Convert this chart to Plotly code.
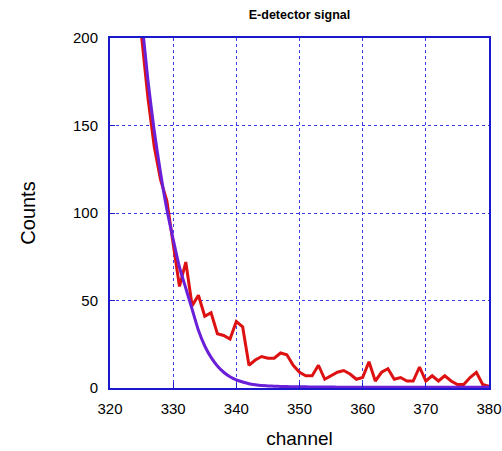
import plotly.graph_objects as go

channels = list(range(325, 381))
counts = [201, 166, 138, 119, 107, 83, 58, 72, 47, 53, 41, 43, 31, 30, 28, 38, 35, 13, 16, 18,
          17, 17, 20, 19, 13, 9, 7, 7, 13, 5, 7, 9, 10, 8, 5, 6, 15, 4, 9, 11,
          5, 6, 4, 4, 12, 4, 7, 4, 7, 4, 2, 2, 6, 9, 2, 1]

fit_channels = list(range(325, 381))
fit_counts = [211, 176, 147, 123, 102, 85, 69, 57, 45, 33, 24, 17.5, 12.6, 9, 6.4, 4.6, 3.4, 2.4, 1.8, 1.4,
              1.2, 1.0, 0.9, 0.8, 0.75, 0.7, 0.65, 0.6, 0.6, 0.55, 0.55, 0.5, 0.5, 0.5, 0.5, 0.5, 0.5, 0.5, 0.5, 0.5,
              0.5, 0.5, 0.5, 0.5, 0.5, 0.5, 0.5, 0.5, 0.5, 0.5, 0.5, 0.5, 0.5, 0.5, 0.5, 0.5]

x_ticks = [320, 330, 340, 350, 360, 370, 380]
y_ticks = [0, 50, 100, 150, 200]

RED = "#dd1111"
PURPLE = "#6a1fd8"
BLUE = "#1a1acc"
GRID = "#3a3aee"
FONT = "Liberation Sans, Arial, sans-serif"

fig = go.Figure()
fig.add_trace(go.Scatter(x=channels, y=counts, mode="lines",
                         line=dict(color=RED, width=3), showlegend=False))
fig.add_trace(go.Scatter(x=fit_channels, y=fit_counts, mode="lines",
                         line=dict(color=PURPLE, width=3, shape="spline", smoothing=0.6),
                         showlegend=False))

fig.update_layout(
    width=502, height=451,
    margin=dict(l=110, r=13, t=38, b=63),
    paper_bgcolor="white", plot_bgcolor="white",
    font=dict(family=FONT, color="black", size=15),
    title=dict(text="<b>E-detector signal</b>", x=0.5966, xanchor="center",
               y=0.968, yanchor="middle", font=dict(size=12.5, family=FONT, color="black")),
    xaxis=dict(range=[320, 380], tickvals=x_ticks, showgrid=True, gridcolor=GRID,
               griddash="dot", gridwidth=1, showline=True, linecolor=BLUE, linewidth=2,
               mirror=True, ticks="inside", tickcolor=BLUE, ticklen=5, zeroline=False,
               ticklabelstandoff=6, automargin=False,
               tickfont=dict(size=15), title=dict(text="channel", font=dict(size=19), standoff=16)),
    yaxis=dict(range=[0, 200], tickvals=y_ticks, showgrid=True, gridcolor=GRID,
               griddash="dot", gridwidth=1, showline=True, linecolor=BLUE, linewidth=2,
               mirror=True, ticks="inside", tickcolor=BLUE, ticklen=5, zeroline=False,
               ticklabelstandoff=7, automargin=False,
               tickfont=dict(size=15), title=dict(text="Counts", font=dict(size=20), standoff=32)),
)

fig.write_html("out.html")
